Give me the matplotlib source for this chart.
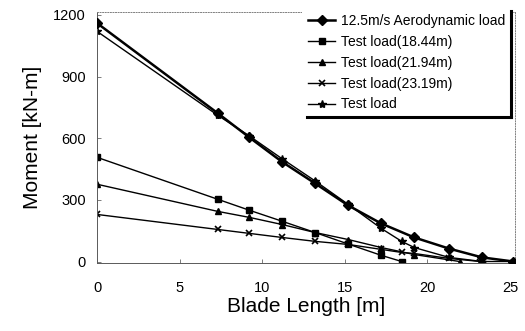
import matplotlib
matplotlib.use("Agg")
import matplotlib.pyplot as plt
from matplotlib.lines import Line2D

plt.rcParams["font.family"] = ["Liberation Sans", "DejaVu Sans"]

# ---- data ----
aero_x = [0, 7.3, 9.2, 11.2, 13.2, 15.2, 17.2, 19.2, 21.3, 23.3, 25.2]
aero_y = [1160, 722, 605, 485, 380, 273, 185, 117, 63, 20, 0]

t1844_x = [0, 7.3, 9.2, 11.2, 13.2, 15.2, 17.2, 18.44]
t1844_y = [507, 303, 250, 196, 141, 85, 30, 0]

t2194_x = [0, 7.3, 9.2, 11.2, 13.2, 15.2, 17.2, 19.2, 21.94]
t2194_y = [376, 244, 215, 180, 141, 107, 68, 34, 0]

t2319_x = [0, 7.3, 9.2, 11.2, 13.2, 15.2, 17.2, 18.44, 19.2, 21.3, 23.19]
t2319_y = [229, 156, 137, 117, 98, 83, 59, 44, 39, 15, 0]

test_x = [0, 7.3, 9.2, 11.2, 13.2, 15.2, 17.2, 18.44, 19.2, 21.3, 23.3, 25.2]
test_y = [1120, 712, 612, 500, 392, 278, 161, 98, 68, 20, 0, 0]

labels = ["12.5m/s Aerodynamic load", "Test load(18.44m)", "Test load(21.94m)",
          "Test load(23.19m)", "Test load"]

fig = plt.figure(figsize=(5.25, 3.31), dpi=100)
ax = fig.add_axes([0.185, 0.205, 0.796, 0.759])

ax.plot(aero_x, aero_y, color="black", lw=1.8, marker="D", ms=5.5, label=labels[0], zorder=5)
ax.plot(t1844_x, t1844_y, color="black", lw=1.0, marker="s", ms=5, label=labels[1])
ax.plot(t2194_x, t2194_y, color="black", lw=1.0, marker="^", ms=5, label=labels[2])
ax.plot(t2319_x, t2319_y, color="black", lw=1.0, marker="x", ms=5, mew=1.2, label=labels[3])
ax.plot(test_x, test_y, color="black", lw=1.0, marker="*", ms=6, label=labels[4])

ax.set_xlim(0, 25.3)
ax.set_ylim(-8, 1215)
ax.set_xticks([0, 5, 10, 15, 20, 25])
ax.set_yticks([0, 300, 600, 900, 1200])
ax.tick_params(direction="in", length=3, width=0.6, labelsize=10.5, color="0.4")
ax.tick_params(axis="x", pad=12.5)
ax.tick_params(axis="y", pad=8)

for s in ["left", "bottom"]:
    ax.spines[s].set_color("0.35")
    ax.spines[s].set_linewidth(0.7)
for s in ["top", "right"]:
    ax.spines[s].set_color("0.5")
    ax.spines[s].set_linewidth(0.7)
    ax.spines[s].set_linestyle(":")

ax.set_xlabel("Blade Length [m]", fontsize=15, labelpad=2)
ax.set_ylabel("Moment [kN-m]", fontsize=15, labelpad=8)

leg = ax.legend(loc="upper right", bbox_to_anchor=(0.99, 1.015), borderaxespad=0,
                fontsize=10, fancybox=False, frameon=True, handlelength=2,
                labelspacing=0.5, handletextpad=0.4, borderpad=0.4)
leg.get_frame().set_edgecolor("none")
leg.get_frame().set_facecolor("white")
leg.get_frame().set_alpha(1)

# thick right/bottom edge of the legend box, like a drop shadow
fig.canvas.draw()
bb = leg.get_window_extent().transformed(fig.transFigure.inverted())
for xs, ys in [([bb.x1, bb.x1], [bb.y0, bb.y1 - 0.01]), ([bb.x0 + 0.01, bb.x1], [bb.y0, bb.y0])]:
    fig.add_artist(Line2D(xs, ys, transform=fig.transFigure, color="black", lw=2.2,
                          solid_capstyle="projecting"))

plt.savefig("out.png", dpi=100)
plt.close()
